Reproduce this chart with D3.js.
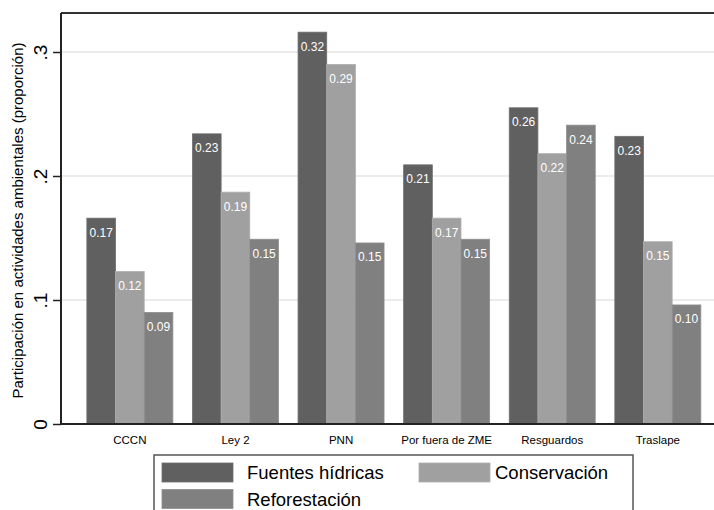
<!DOCTYPE html>
<html><head><meta charset="utf-8">
<script src="https://cdn.jsdelivr.net/npm/d3@7"></script>
<style>html,body{margin:0;padding:0;background:#fff}svg{display:block}</style>
</head><body><svg id="c" width="714" height="510"></svg>
<script>
const categories = ["CCCN","Ley 2","PNN","Por fuera de ZME","Resguardos","Traslape"];
const seriesNames = ["Fuentes hídricas","Conservación","Reforestación"];
const fuentes = [0.166, 0.234, 0.316, 0.209, 0.255, 0.232];
const conservacion = [0.123, 0.187, 0.290, 0.166, 0.218, 0.147];
const reforestacion = [0.090, 0.149, 0.146, 0.149, 0.241, 0.096];
const yTicks = [0, 0.1, 0.2, 0.3];
const yTickLabels = ["0", ".1", ".2", ".3"];
const colors = ["#606060", "#a0a0a0", "#808080"];
const strokes = ["#6e6e6e", "#aeaeae", "#8e8e8e"];
const series = [fuentes, conservacion, reforestacion];

(function() {
const svg = d3.select("#c");
const font = "'Liberation Sans', Arial, Helvetica, sans-serif";
const pLeft = 61, pTop = 13, pBottom = 424, rightRange = 726.7, rightEdge = 714;

const y = d3.scaleLinear().domain([0, 0.1]).range([pBottom, pBottom - 124]);
const x0 = d3.scaleBand().domain(categories).range([pLeft, rightRange]).paddingInner(0.1856).paddingOuter(0.245);
const x1 = d3.scaleBand().domain(d3.range(3)).range([0, x0.bandwidth()]);

// gridlines
svg.append("g").selectAll("line").data(yTicks.filter(d => d > 0)).join("line")
  .attr("x1", pLeft).attr("x2", rightEdge)
  .attr("y1", d => y(d)).attr("y2", d => y(d))
  .attr("stroke", "#e4e4e4").attr("stroke-width", 1.5);

// top border
svg.append("line").attr("x1", pLeft).attr("x2", rightEdge).attr("y1", pTop).attr("y2", pTop)
  .attr("stroke", "#333").attr("stroke-width", 2);

// bars
const groups = svg.append("g").selectAll("g").data(categories).join("g")
  .attr("transform", d => `translate(${x0(d)},0)`);
groups.each(function(cat, ci) {
  const g = d3.select(this);
  series.forEach((s, si) => {
    const v = s[ci];
    g.append("rect").attr("x", x1(si)).attr("width", x1.bandwidth())
      .attr("y", y(v)).attr("height", y(0) - y(v))
      .attr("fill", colors[si]).attr("stroke", strokes[si]).attr("stroke-width", 0.8);
    g.append("text").attr("x", x1(si) + x1.bandwidth() / 2).attr("y", y(v) + 18.5)
      .attr("text-anchor", "middle").attr("fill", "#fff")
      .attr("font-family", font).attr("font-size", 12)
      .text(v.toFixed(2));
  });
});

// y axis
const yAxis = d3.axisLeft(y).tickValues(yTicks).tickFormat((d, i) => yTickLabels[i]).tickSize(8).tickPadding(4);
const ya = svg.append("g").attr("transform", `translate(${pLeft},0)`).call(yAxis);
ya.select(".domain").attr("stroke", "#222").attr("stroke-width", 2).attr("d", `M0,${pTop}V${pBottom}`);
ya.selectAll(".tick line").attr("stroke", "#222").attr("stroke-width", 1.5);
ya.selectAll(".tick text").attr("font-family", font).attr("font-size", 19).attr("fill", "#000")
  .attr("text-anchor", "middle").attr("dy", null)
  .attr("transform", "translate(-21,0) rotate(-90)").attr("x", 0).attr("y", 0)
  .attr("dominant-baseline", "central");

// x axis line
svg.append("line").attr("x1", pLeft).attr("x2", rightEdge).attr("y1", pBottom).attr("y2", pBottom)
  .attr("stroke", "#222").attr("stroke-width", 2);
const xAxis = d3.axisBottom(x0).tickSize(0).tickPadding(0);
const xa = svg.append("g").attr("transform", `translate(0,${pBottom})`).call(xAxis);
xa.select(".domain").remove();
xa.selectAll(".tick text").attr("font-family", font).attr("font-size", 11.5).attr("fill", "#000")
  .attr("dy", null).attr("y", 19.5);

// y title
svg.append("text").attr("transform", `translate(23,${(pTop + pBottom) / 2 + 2}) rotate(-90)`)
  .attr("text-anchor", "middle").attr("font-family", font).attr("font-size", 15).attr("fill", "#000")
  .text("Participación en actividades ambientales (proporción)");

// legend
const lg = svg.append("g");
lg.append("rect").attr("x", 154).attr("y", 455).attr("width", 479).attr("height", 70)
  .attr("fill", "#fff").attr("stroke", "#555").attr("stroke-width", 1.5);
const legendPos = [[162, 463], [419, 463], [162, 489.5]];
const textX = [247, 495, 247];
seriesNames.forEach((n, i) => {
  const [lx, ly] = legendPos[i];
  lg.append("rect").attr("x", lx).attr("y", ly).attr("width", 71).attr("height", 19)
    .attr("fill", colors[i]).attr("stroke", strokes[i]).attr("stroke-width", 0.8);
  lg.append("text").attr("x", textX[i]).attr("y", ly + 16)
    .attr("font-family", font).attr("font-size", 18.5).attr("fill", "#000").text(n);
});
})();
</script></body></html>
